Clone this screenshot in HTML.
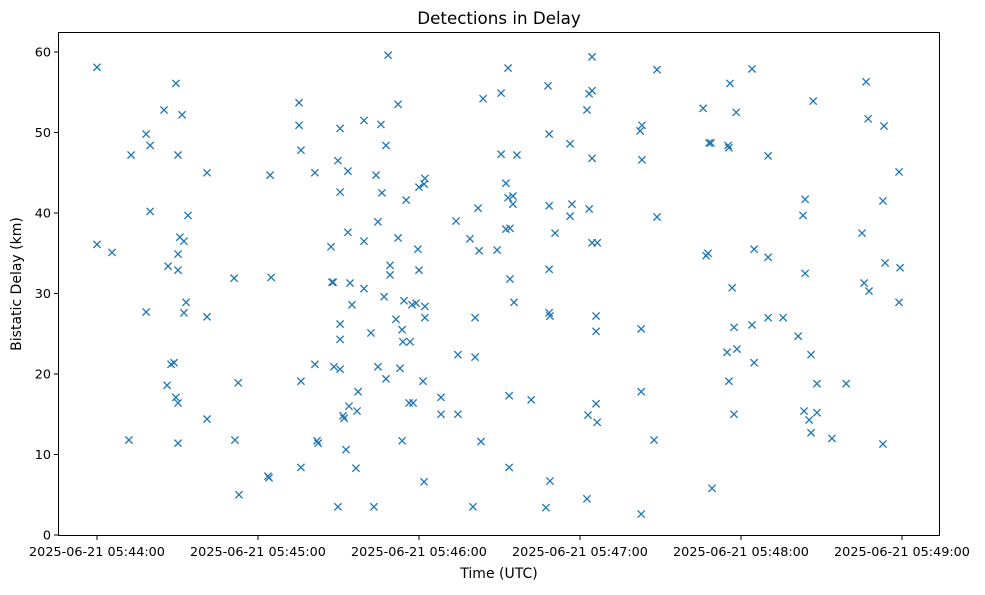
<!DOCTYPE html>
<html><head><meta charset="utf-8"><style>
body{margin:0;background:#fff;font-family:"Liberation Sans","DejaVu Sans",sans-serif;}
svg text{font-family:"DejaVu Sans","Liberation Sans",sans-serif;fill:#000;}
</style></head><body>
<svg id="chart" width="985" height="590" xmlns="http://www.w3.org/2000/svg">
<rect width="985" height="590" fill="#fff"/>
<text x="499" y="24" font-size="16.7" text-anchor="middle">Detections in Delay</text>
<g id="grid"></g>
<g id="marks"></g>
<rect x="58.5" y="32.5" width="881" height="503" fill="none" stroke="#000" stroke-width="1"/>
<text x="499" y="578" font-size="14" text-anchor="middle">Time (UTC)</text>
<text x="21" y="284" font-size="14" text-anchor="middle" transform="rotate(-90 21 284)">Bistatic Delay (km)</text>
</svg>
<script>
// seconds after 2025-06-21 05:44:00
const times=[0,0,5.6,11.9,12.7,18.3,19.8,18.3,19.8,25.0,26.1,26.5,27.6,28.7,29.4,30.2,29.4,30.2,30.2,30.2,30.9,31.7,32.4,32.4,33.2,33.9,30.2,41.0,41.0,41.0,51.1,51.4,52.6,52.9,63.7,64.1,64.5,64.9,75.3,75.3,76.0,76.0,76.0,81.2,81.2,82.0,82.4,87.2,87.6,88.0,88.3,89.8,89.8,90.6,90.6,90.6,90.6,90.6,91.7,92.1,92.8,93.5,93.5,93.9,94.3,95.0,96.5,96.9,97.3,99.5,99.5,99.5,102.1,103.2,104.0,104.7,104.7,105.8,106.2,107.0,107.7,107.7,108.5,109.2,109.2,111.4,112.2,112.2,112.9,113.7,113.7,114.0,115.2,114.4,116.3,116.7,117.4,117.8,118.9,119.6,120.0,120.0,121.5,121.9,122.2,122.2,122.2,121.9,128.2,128.2,133.8,134.5,134.5,139.0,140.1,140.9,140.9,142.0,142.4,143.1,143.9,149.1,150.6,150.6,152.4,152.4,153.2,153.2,153.9,153.9,153.6,153.6,155.0,155.0,155.4,156.5,161.8,167.3,168.1,168.5,168.5,168.5,168.5,168.8,168.8,170.7,176.3,177.0,176.3,182.6,182.6,183.0,183.4,183.4,184.5,184.5,184.5,184.5,186.4,186.0,186.0,186.0,186.4,202.4,203.1,203.1,202.8,202.8,202.8,207.6,208.7,208.7,225.9,227.0,227.7,228.1,228.8,229.2,234.8,235.2,235.5,235.5,235.9,236.7,237.4,237.4,238.2,238.5,244.1,244.1,244.9,244.9,250.1,250.1,250.1,255.7,261.3,263.1,263.9,263.9,263.5,265.4,266.1,266.1,266.9,268.3,268.3,273.9,279.2,285.1,285.9,286.6,287.4,287.7,292.9,292.9,293.3,293.7,298.9,299.3,298.9];
const delays=[58.1,36.1,35.1,11.8,47.2,49.8,48.4,27.7,40.2,52.8,18.6,33.4,21.2,21.4,56.1,47.2,17.1,16.4,32.9,34.9,37.0,52.2,36.5,27.6,28.9,39.7,11.4,45.0,27.1,14.4,31.9,11.8,18.9,5.0,7.3,7.1,44.7,32.0,53.7,50.9,47.8,19.1,8.4,45.0,21.2,11.7,11.4,35.8,31.4,31.4,20.9,3.5,46.5,50.5,42.6,26.2,24.3,20.6,14.8,14.5,10.6,45.2,37.6,16.0,31.3,28.6,8.3,15.4,17.8,51.5,36.5,30.6,25.1,3.5,44.7,20.9,38.9,51.0,42.5,29.6,48.4,19.4,59.6,33.5,32.3,26.8,53.5,36.9,20.7,25.5,11.7,24.0,41.6,29.1,16.4,24.0,28.6,16.4,28.8,35.5,43.2,32.9,19.1,43.6,44.3,28.4,27.0,6.6,17.1,15.0,39.0,22.4,15.0,36.8,3.5,27.0,22.1,40.6,35.3,11.6,54.2,35.4,54.9,47.3,43.7,38.0,58.0,41.9,38.1,31.8,17.3,8.4,42.1,41.1,28.9,47.2,16.8,3.4,55.8,49.8,40.9,33.0,27.6,6.7,27.2,37.5,48.6,41.1,39.6,52.8,4.5,14.9,40.5,54.8,55.2,59.4,46.8,36.3,36.3,27.2,25.3,16.3,14.0,50.2,50.9,46.6,17.8,25.6,2.6,11.8,57.8,39.5,53.0,34.7,35.0,48.7,48.7,5.8,22.7,48.4,48.1,19.1,56.1,30.7,25.8,15.0,52.5,23.1,57.9,26.1,35.5,21.4,47.1,34.5,27.0,27.0,24.7,39.7,41.7,32.5,15.4,14.3,22.4,12.7,53.9,18.8,15.2,12.0,18.8,37.5,31.3,56.3,51.7,30.3,11.3,41.5,50.8,33.8,45.1,33.2,28.9];
const yTicks=[0,10,20,30,40,50,60];
const xTicks=[0,60,120,180,240,300];
const xTickLabels=["2025-06-21 05:44:00","2025-06-21 05:45:00","2025-06-21 05:46:00","2025-06-21 05:47:00","2025-06-21 05:48:00","2025-06-21 05:49:00"];

const NS="http://www.w3.org/2000/svg";
function xScale(s){return 97+s*(805/300);}
function yScale(v){return 535-v*(483/60);}
const g=document.getElementById('grid');
const m=document.getElementById('marks');
function mk(tag,attrs,parent){const e=document.createElementNS(NS,tag);for(const k in attrs)e.setAttribute(k,attrs[k]);parent.appendChild(e);return e;}
yTicks.forEach(v=>{
  const y=yScale(v);
  const t=mk('line',{x1:54,x2:58,y1:y,y2:y,stroke:'#000'},g);
  
  
  const l=mk('text',{x:51,y:y+4.5,'font-size':12.8,'text-anchor':'end'},g);
  l.textContent=v;
  
  
});
xTicks.forEach((s,i)=>{
  const x=xScale(s);
  const t=mk('line',{x1:x,x2:x,y1:536,y2:540,stroke:'#000'},g);
  
  
  const l=mk('text',{x:x,y:556,'font-size':12.8,'text-anchor':'middle'},g);
  l.textContent=xTickLabels[i];
  
  
});
times.forEach((s,i)=>{
  const x=xScale(s),y=yScale(delays[i]),r=3.6;
  const p=mk('path',{d:`M${x-r},${y-r}L${x+r},${y+r}M${x-r},${y+r}L${x+r},${y-r}`,stroke:'#1f77b4','stroke-width':1.3,fill:'none'},m);
  
  
});
</script>
</body></html>
